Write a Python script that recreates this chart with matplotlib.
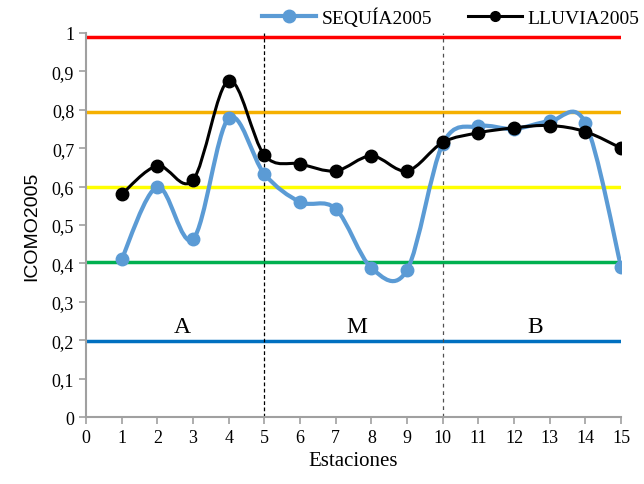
import numpy as np
import matplotlib
matplotlib.use('Agg')
import matplotlib.pyplot as plt
from matplotlib.path import Path
from matplotlib.patches import PathPatch
from matplotlib.lines import Line2D

estaciones = [1, 2, 3, 4, 5, 6, 7, 8, 9, 10, 11, 12, 13, 14, 15]
sequia = [0.411, 0.599, 0.463, 0.778, 0.633, 0.56, 0.542, 0.388, 0.383,
          0.711, 0.757, 0.75, 0.77, 0.765, 0.39]
lluvia = [0.58, 0.654, 0.617, 0.876, 0.682, 0.659, 0.641, 0.68, 0.641,
          0.715, 0.74, 0.753, 0.759, 0.743, 0.70]
umbrales = [0.99, 0.795, 0.598, 0.403, 0.197]
colores_umbral = ['#FF0000', '#F5B000', '#FFFF00', '#00B050', '#0070C0']
zonas = ['A', 'M', 'B']
zonas_x = [2.7, 7.6, 12.6]
cortes = [5, 10]
yticks = [0, 0.1, 0.2, 0.3, 0.4, 0.5, 0.6, 0.7, 0.8, 0.9, 1]
ytick_labels = ['0', '0,1', '0,2', '0,3', '0,4', '0,5', '0,6', '0,7', '0,8', '0,9', '1']

serif = 'Liberation Serif'


def curva_suave(x, y):
    # bezier como la linea suavizada de Excel
    x = np.asarray(x, float)
    y = np.asarray(y, float)
    verts = [(x[0], y[0])]
    codes = [Path.MOVETO]
    n = len(x)
    for i in range(n - 1):
        p0 = (x[max(i - 1, 0)], y[max(i - 1, 0)])
        p1 = (x[i], y[i])
        p2 = (x[i + 1], y[i + 1])
        p3 = (x[min(i + 2, n - 1)], y[min(i + 2, n - 1)])
        c1 = (p1[0] + (p2[0] - p0[0]) / 6, p1[1] + (p2[1] - p0[1]) / 6)
        c2 = (p2[0] - (p3[0] - p1[0]) / 6, p2[1] - (p3[1] - p1[1]) / 6)
        verts += [c1, c2, p2]
        codes += [Path.CURVE4] * 3
    return Path(verts, codes)


fig = plt.figure(figsize=(6.44, 4.85), dpi=100)
ax = fig.add_axes([0.1335, 0.138, 0.831, 0.792])

for u, c in zip(umbrales, colores_umbral):
    ax.axhline(u, color=c, lw=2.5, zorder=1)

ax.axvline(cortes[0], color='black', lw=0.9, ls=(0, (3, 2)), zorder=2)
ax.axvline(cortes[1], color='#505050', lw=0.9, ls=(0, (3, 3)), zorder=2)

ax.add_patch(PathPatch(curva_suave(estaciones, sequia), fc='none', ec='#5B9BD5', lw=3, zorder=3))
ax.plot(estaciones, sequia, ls='none', marker='o', ms=9, color='#5B9BD5', zorder=4)
ax.add_patch(PathPatch(curva_suave(estaciones, lluvia), fc='none', ec='black', lw=2.2, zorder=5))
ax.plot(estaciones, lluvia, ls='none', marker='o', ms=9, color='black', zorder=6)

for z, zx in zip(zonas, zonas_x):
    ax.text(zx, 0.235, z, fontsize=17, family=serif, ha='center', va='center')

ax.set_xlim(0, 15)
ax.set_ylim(0, 1)
ax.set_xticks(range(0, 16))
ax.set_yticks(yticks)
ax.set_yticklabels(ytick_labels)
ax.tick_params(colors='#A0A0A0', length=5, width=1.2, labelcolor='black', labelsize=13)
for lab in ax.get_xticklabels() + ax.get_yticklabels():
    lab.set_family(serif)
for s in ['top', 'right']:
    ax.spines[s].set_visible(False)
for s in ['left', 'bottom']:
    ax.spines[s].set_color('#A0A0A0')
    ax.spines[s].set_linewidth(1.5)

ax.set_xlabel('Estaciones', fontsize=15, family=serif, labelpad=4)
ax.set_ylabel('ICOMO2005', fontsize=14, family='Liberation Sans', labelpad=8)

handles = [Line2D([], [], color='#5B9BD5', lw=3, marker='o', ms=9),
           Line2D([], [], color='black', lw=2.2, marker='o', ms=7)]
fig.legend(handles, ['SEQUÍA2005', 'LLUVIA2005'], loc='center', bbox_to_anchor=(0.700, 0.962),
           ncol=2, frameon=False, prop={'family': serif, 'size': 14}, handlelength=2.8,
           columnspacing=1.8, handletextpad=0.3)

fig.savefig('out.png', dpi=100)
